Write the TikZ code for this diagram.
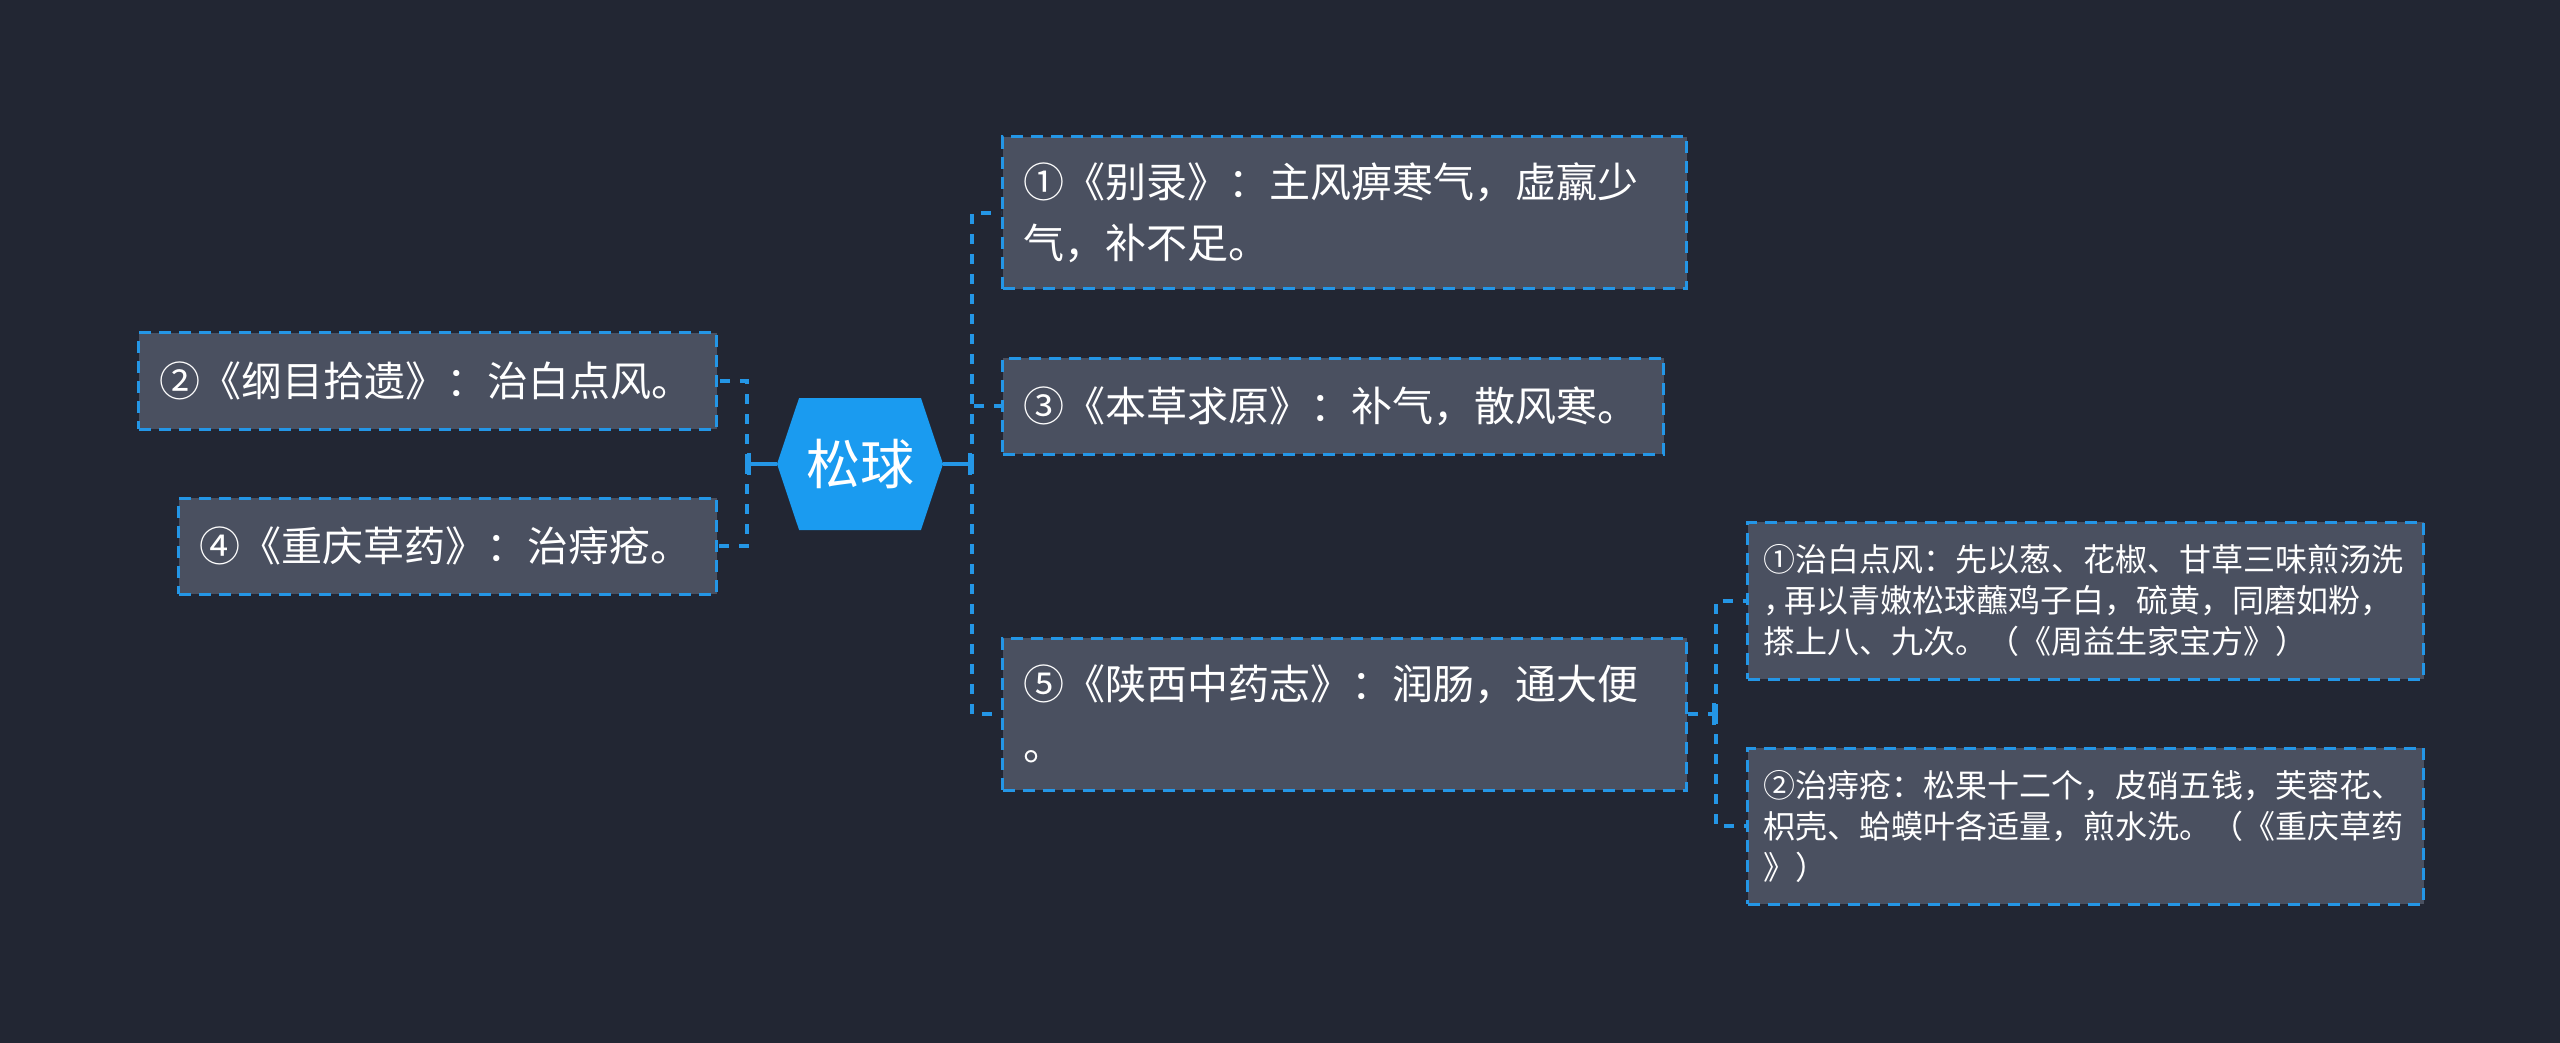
\documentclass[tikz,border=0pt]{standalone}
\usepackage{fontspec}
\newfontfamily\cjkfont{Noto Sans CJK SC}
\usetikzlibrary{arrows.meta, positioning, shapes.symbols}

\definecolor{bgdark}{RGB}{34,38,51}
\definecolor{boxgray}{RGB}{74,80,96}
\definecolor{linkblue}{RGB}{36,150,230}
\definecolor{rootblue}{RGB}{26,155,240}

\begin{document}
\begin{tikzpicture}[
    x=0.5pt, y=-0.5pt,
    font=\cjkfont,
    node distance=33pt,
    % Define styles
    root/.style={signal, signal to=west and east, signal pointer angle=143, fill=rootblue, text=white, minimum width=83pt, minimum height=66pt, inner sep=0pt, font=\cjkfont\fontsize{27pt}{32pt}\selectfont},
    topic/.style={rectangle, draw=linkblue, line width=1.5pt, dash pattern=on 6pt off 4pt, fill=boxgray, text=white, align=left, inner xsep=10.5pt, inner ysep=0pt, font=\cjkfont\fontsize{20.5pt}{30.5pt}\selectfont},
    detail/.style={topic, inner xsep=8pt, font=\cjkfont\fontsize{16pt}{20.5pt}\selectfont},
    stem/.style={draw=linkblue, line width=2pt, -{Bar[width=11pt]}},
    branch/.style={draw=linkblue, line width=2pt, dash pattern=on 5pt off 5pt}
]

% Background
\fill[bgdark] (0,0) rectangle (2560,1043);
\useasboundingbox (0,0) rectangle (2560,1043);

% 1. Root
\node[root] (root) at (860,464) {松球};

% 2. Left topics
\node[topic, text width=268pt, minimum height=48pt, anchor=east] (gangmu) at (718,381) {②《纲目拾遗》：治白点风。};
\node[topic, text width=248pt, minimum height=48pt, anchor=east] (chongqing) at (718,546) {④《重庆草药》：治痔疮。};

% 3. Right topics
\node[topic, text width=321pt, minimum height=76pt, anchor=west] (bielu) at (1001,213) {①《别录》：主风痹寒气，虚羸少\\气，补不足。};
\node[topic, text width=309.5pt, minimum height=48pt, anchor=west] (bencao) at (1001,406) {③《本草求原》：补气，散风寒。};
\node[topic, text width=321pt, minimum height=76pt, anchor=west] (shaanxi) at (1001,714) {⑤《陕西中药志》：润肠，通大便\\。};

% 4. Details under topic 5
\node[detail, text width=322pt, minimum height=78.5pt, anchor=west] (baidian) at (1746,600.5) {①治白点风：先以葱、花椒、甘草三味煎汤洗\\，\kern-0.35em 再以青嫩松球蘸鸡子白，硫黄，同磨如粉，\\搽上八、九次。（《周益生家宝方》）};
\node[detail, text width=322pt, minimum height=78pt, below=of baidian] (zhichuang) {②治痔疮：松果十二个，皮硝五钱，芙蓉花、\\枳壳、蛤蟆叶各适量，煎水洗。（《重庆草药\\》）};

% Connections
\coordinate (lspine) at (747,464);
\coordinate (rspine) at (972,464);
\coordinate (sspine) at (1716,714);

% Root to left topics
\draw[stem] (root.west) -- (lspine);
\draw[branch] (lspine) |- (gangmu.east);
\draw[branch] (lspine) |- (chongqing.east);

% Root to right topics
\draw[stem] (root.east) -- (rspine);
\draw[branch] (rspine) |- (bielu.west);
\draw[branch] (rspine) |- (bencao.west);
\draw[branch] (rspine) |- (shaanxi.west);

% Topic 5 to its details
\draw[branch, -{Bar[width=11pt]}] (shaanxi.east) -- (sspine);
\draw[branch] (sspine) |- (baidian.west);
\draw[branch] (sspine) |- (zhichuang.west);

\end{tikzpicture}
\end{document}
